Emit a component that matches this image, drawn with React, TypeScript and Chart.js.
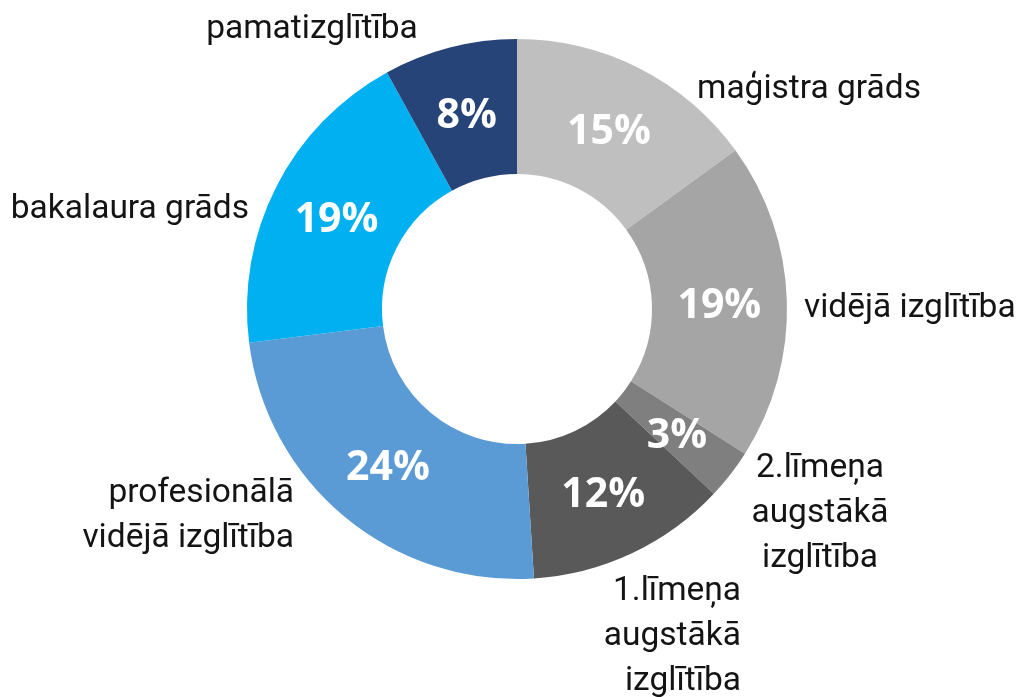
import React, { useEffect, useRef } from "react";
import { Chart, registerables } from "chart.js";

Chart.register(...registerables);

const categories = [
  "maģistra grāds",
  "vidējā izglītība",
  "2.līmeņa augstākā izglītība",
  "1.līmeņa augstākā izglītība",
  "profesionālā vidējā izglītība",
  "bakalaura grāds",
  "pamatizglītība",
];
const categoryLines = [
  ["maģistra grāds"],
  ["vidējā izglītība"],
  ["2.līmeņa", "augstākā", "izglītība"],
  ["1.līmeņa", "augstākā", "izglītība"],
  ["profesionālā", "vidējā izglītība"],
  ["bakalaura grāds"],
  ["pamatizglītība"],
];
const shares = [15, 19, 3, 12, 24, 19, 8];
const colors = ["#bfbfbf", "#a5a5a5", "#7f7f7f", "#595959", "#5b9bd5", "#00b0f0", "#264478"];

// label placement relative to the doughnut centre (px), baseline of first line
const labelLayout: { dx: number; dy: number; align: CanvasTextAlign }[] = [
  { dx: 180, dy: -211, align: "left" },
  { dx: 287, dy: 8, align: "left" },
  { dx: 303, dy: 168, align: "center" },
  { dx: 224, dy: 291, align: "right" },
  { dx: -223, dy: 193, align: "right" },
  { dx: -268, dy: -91, align: "right" },
  { dx: -205, dy: -271, align: "center" },
];

const labelPlugin = {
  id: "donutLabels",
  afterDatasetsDraw(chart: any) {
    const ctx: CanvasRenderingContext2D = chart.ctx;
    const meta = chart.getDatasetMeta(0);
    ctx.save();
    meta.data.forEach((arc: any, i: number) => {
      const p = arc.tooltipPosition(false);
      ctx.fillStyle = "#ffffff";
      ctx.font = "bold 41px 'Open Sans'";
      ctx.textAlign = "center";
      ctx.textBaseline = "alphabetic";
      ctx.fillText(`${shares[i]}%`, p.x, p.y + 15);

      const lay = labelLayout[i];
      ctx.fillStyle = "#141414";
      ctx.font = "33.5px Roboto";
      ctx.textAlign = lay.align;
      categoryLines[i].forEach((line, j) => {
        ctx.fillText(line, arc.x + lay.dx, arc.y + lay.dy + j * 45);
      });
    });
    ctx.restore();
  },
};

export default function App() {
  const canvasRef = useRef<HTMLCanvasElement | null>(null);

  useEffect(() => {
    const canvas = canvasRef.current;
    if (!canvas) return;
    const chart = new Chart(canvas, {
      type: "doughnut",
      data: {
        labels: categories,
        datasets: [
          {
            data: shares,
            backgroundColor: colors,
            borderWidth: 0,
          },
        ],
      },
      options: {
        responsive: false,
        animation: false,
        cutout: "50%",
        layout: { padding: { left: 247, right: 232, top: 39, bottom: 118 } },
        plugins: {
          legend: { display: false },
          tooltip: { enabled: false },
        },
      },
      plugins: [labelPlugin],
    });
    return () => chart.destroy();
  }, []);

  return (
    <div style={{ position: "fixed", left: 0, top: 0, width: 1019, height: 697, background: "#ffffff" }}>
      <canvas ref={canvasRef} width={1019} height={697} style={{ display: "block" }} />
    </div>
  );
}
